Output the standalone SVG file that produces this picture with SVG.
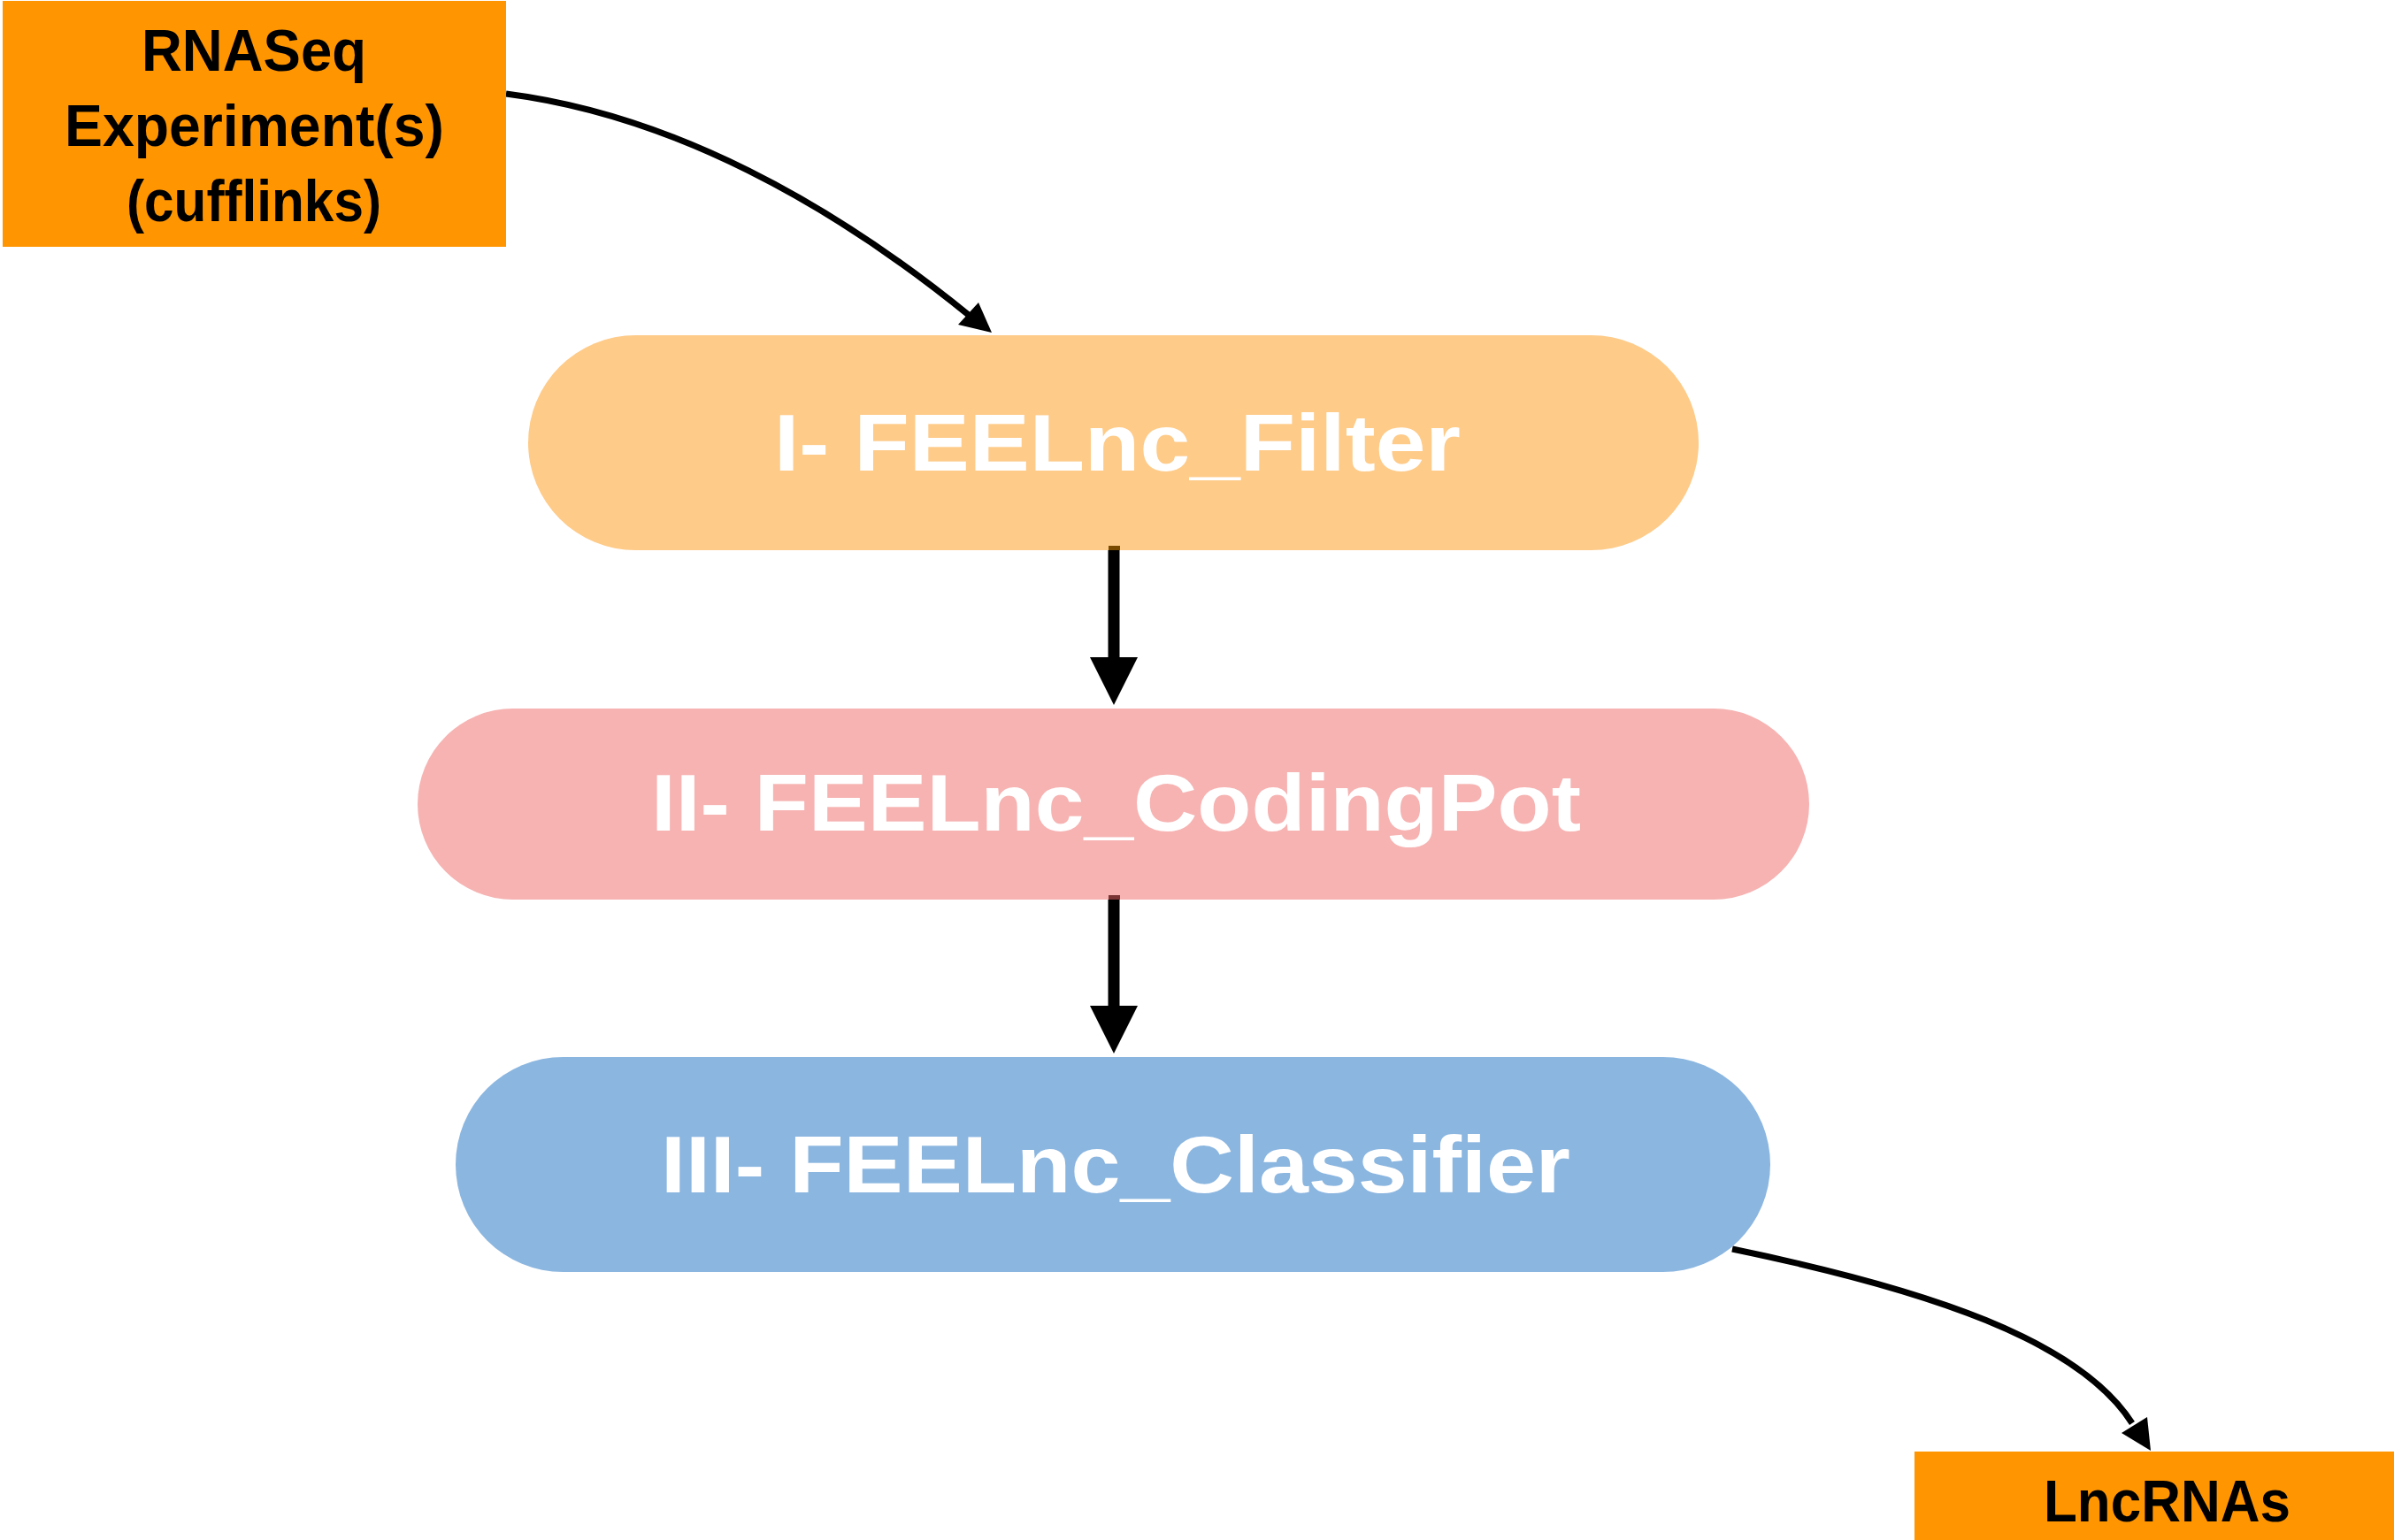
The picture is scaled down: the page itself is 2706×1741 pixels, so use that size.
<svg xmlns="http://www.w3.org/2000/svg" width="2706" height="1741" viewBox="0 0 2706 1741">
<style>
.box{fill:#FF9500;}
.lbl{font-family:"Liberation Sans",Arial,sans-serif;font-weight:bold;font-size:66px;fill:#000;}
.wl{font-family:"Liberation Sans",Arial,sans-serif;font-weight:bold;font-size:90px;fill:#fff;}
.edge{fill:none;stroke:#000;stroke-width:7;}
.vedge{fill:none;stroke:#000;stroke-width:13;}
.head{fill:#000;}
</style>
<rect width="2706" height="1741" fill="#fff"/>
<g id="connectors">
<path class="edge" d="M572,106 C760,130 940,230 1096,357"/>
<polygon class="head" points="1121,376 1083,367 1106,342"/>
<line class="vedge" x1="1259" y1="617" x2="1259" y2="745"/>
<polygon class="head" points="1232,743 1286,743 1259,797"/>
<line class="vedge" x1="1259" y1="1012" x2="1259" y2="1139"/>
<polygon class="head" points="1232,1137 1286,1137 1259,1191"/>
<path class="edge" d="M1958,1412 C2180,1458 2350,1515 2410,1609"/>
<polygon class="head" points="2431,1640 2398,1620 2427,1602"/>
</g>
<g id="node-rnaseq">
<rect class="box" x="3" y="1" width="569" height="278"/>
<text class="lbl" x="160" y="80" textLength="254" lengthAdjust="spacingAndGlyphs">RNASeq</text>
<text class="lbl" x="73" y="165" textLength="429" lengthAdjust="spacingAndGlyphs">Experiment(s)</text>
<text class="lbl" x="143" y="250" textLength="288" lengthAdjust="spacingAndGlyphs">(cufflinks)</text>
</g>
<g id="node-filter">
<rect x="597" y="379" width="1323" height="243" rx="121.5" fill="#FECB89"/>
<rect x="1253" y="617" width="13" height="5" fill="#7A4A00"/>
<text class="wl" x="875" y="532" textLength="776" lengthAdjust="spacingAndGlyphs">I- FEELnc_Filter</text>
</g>
<g id="node-codingpot">
<rect x="472" y="801" width="1573" height="216" rx="108" fill="#F6B3B2"/>
<rect x="1253" y="1012" width="13" height="5" fill="#7A3434"/>
<text class="wl" x="736" y="939" textLength="1051" lengthAdjust="spacingAndGlyphs">II- FEELnc_CodingPot</text>
</g>
<g id="node-classifier">
<rect x="515" y="1195" width="1486" height="243" rx="121.5" fill="#8BB6E0"/>
<text class="wl" x="747" y="1348" textLength="1028" lengthAdjust="spacingAndGlyphs">III- FEELnc_Classifier</text>
</g>
<g id="node-lncrnas">
<rect class="box" x="2164" y="1641" width="542" height="100"/>
<text class="lbl" x="2310" y="1720" textLength="279" lengthAdjust="spacingAndGlyphs">LncRNAs</text>
</g>
</svg>
